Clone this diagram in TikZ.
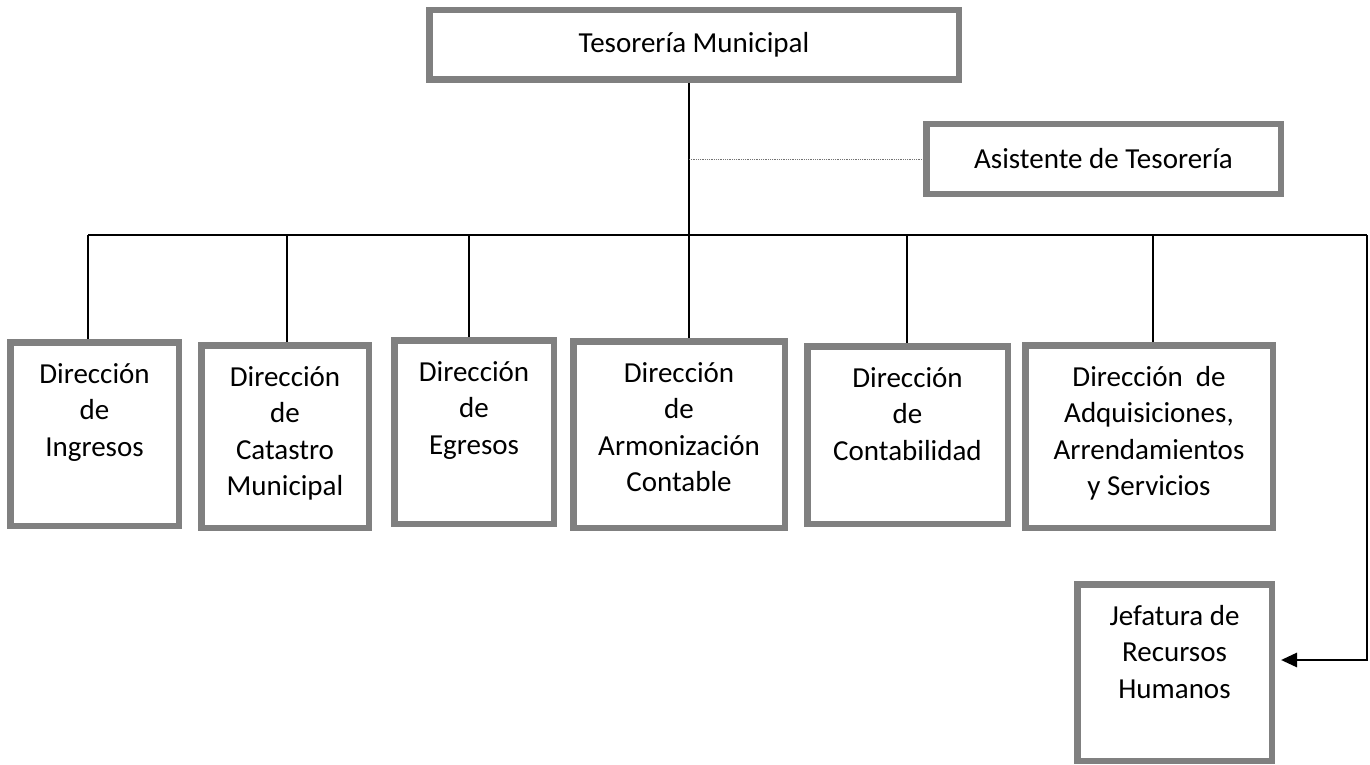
\documentclass[tikz,border=0pt]{standalone}
\usepackage{fontspec}
\setmainfont{Carlito}
\usetikzlibrary{arrows.meta}
\newcommand\btext[3]{\parbox[c][#2][t]{#1}{\centering\rule{0pt}{41pt}#3\par}}
\tikzset{
  ob/.style={draw=black!50, line width=6.5pt, fill=white, inner sep=0pt, outer sep=3.25pt, rectangle},
  conn/.style={draw=black, line width=1.4pt},
  conthick/.style={draw=black, line width=2.8pt},
  dotconn/.style={draw=black!55, line width=0.8pt, densely dotted},
}
\begin{document}
\begin{tikzpicture}[x=1pt,y=-1pt,font=\fontsize{29}{36.5}\selectfont]
\useasboundingbox (0,0) rectangle (1370,765);
% boxes
\node[ob, minimum width=529.5pt, minimum height=69.5pt] (tes) at (694,45) {Tesorería Municipal};
\node[ob, minimum width=354.5pt, minimum height=69.5pt] (asis) at (1103.5,159) {Asistente de Tesorería};
\node[ob] (d1) at (94.5,434) {\btext{168.5pt}{183.5pt}{Dirección\\de\\Ingresos}};
\node[ob] (d2) at (285,436.5) {\btext{167.5pt}{182.5pt}{Dirección\\de\\Catastro\\Municipal}};
\node[ob] (d3) at (474,432) {\btext{159.5pt}{183.5pt}{Dirección\\de\\Egresos}};
\node[ob] (d4) at (679,434.5) {\btext{211.5pt}{186.5pt}{Dirección\\de\\Armonización\\Contable}};
\node[ob] (d5) at (907.5,435) {\btext{200.5pt}{177.5pt}{Dirección\\de\\Contabilidad}};
\node[ob] (d6) at (1149,436.5) {\btext{247.5pt}{182.5pt}{Dirección\ \ de\\Adquisiciones,\\Arrendamientos\\y Servicios}};
\node[ob] (jef) at (1174.5,672.5) {\btext{194.5pt}{176.5pt}{Jefatura de\\Recursos\\Humanos}};
% bus coordinates
\coordinate (b1) at (88,235);
\coordinate (b2) at (287,235);
\coordinate (b3) at (469,235);
\coordinate (b4) at (689,235);
\coordinate (b5) at (907,235);
\coordinate (b6) at (1153,235);
\coordinate (bR) at (1367,235);
\coordinate (jA) at (1367,660);
% connectors
\draw[conn] (tes.south -| b4) -- (b4 |- d4.north);
\draw[dotconn] (b4 |- asis.west) -- (asis.west);
\draw[conn] (b1) -- (bR);
\draw[conn] (b1) -- (b1 |- d1.north);
\draw[conn] (b2) -- (b2 |- d2.north);
\draw[conn] (b3) -- (b3 |- d3.north);
\draw[conn] (b5) -- (b5 |- d5.north);
\draw[conn] (b6) -- (b6 |- d6.north);
\draw[conthick, -{Triangle[length=16pt,width=14pt]}, shorten >=6pt] (bR) -- (jA) -- (jef.east |- jA);
\end{tikzpicture}
\end{document}
